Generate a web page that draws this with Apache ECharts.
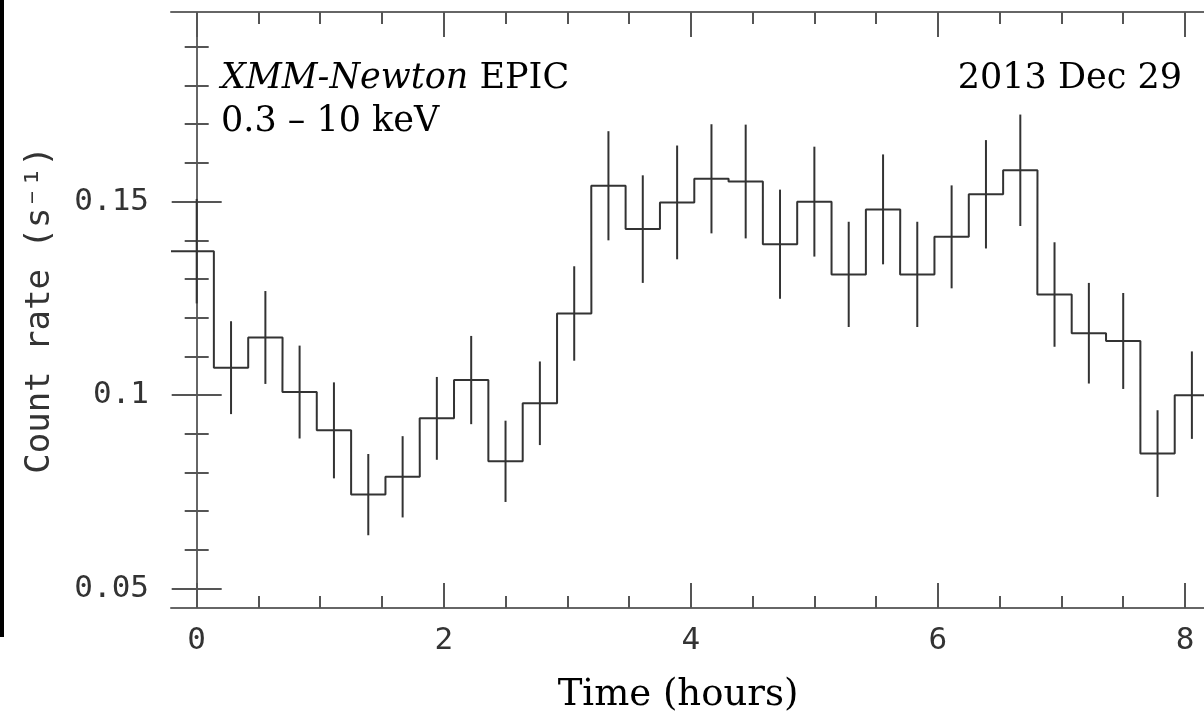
<!DOCTYPE html>
<html>
<head>
<meta charset="utf-8">
<script src="https://cdn.jsdelivr.net/npm/echarts@6/dist/echarts.min.js"></script>
<style>
  html, body { margin: 0; padding: 0; background: #fff; }
  #chart { width: 1204px; height: 717px; }
</style>
</head>
<body>
<div id="chart"></div>
<script>
// ---- data (1000-s bins, time in hours) ----
const binTimes = [0, 0.278, 0.556, 0.833, 1.111, 1.389, 1.667, 1.944, 2.222, 2.5,
                  2.778, 3.056, 3.333, 3.611, 3.889, 4.167, 4.444, 4.722, 5.0, 5.278,
                  5.556, 5.833, 6.111, 6.389, 6.667, 6.944, 7.222, 7.5, 7.778, 8.056];
const rates = [0.1372, 0.1071, 0.1149, 0.1008, 0.0909, 0.0743, 0.0789, 0.0940, 0.1039, 0.0829,
               0.0979, 0.1211, 0.1541, 0.1429, 0.1498, 0.1559, 0.1552, 0.1390, 0.1500, 0.1312,
               0.1480, 0.1312, 0.1409, 0.1519, 0.1581, 0.1260, 0.1160, 0.1140, 0.0849, 0.1000];
const rateErrors = [0.0135, 0.0120, 0.0120, 0.0120, 0.0124, 0.0105, 0.0105, 0.0107, 0.0114, 0.0105,
                    0.0108, 0.0122, 0.0141, 0.0139, 0.0147, 0.0141, 0.0147, 0.0141, 0.0142, 0.0136,
                    0.0142, 0.0136, 0.0133, 0.0140, 0.0144, 0.0135, 0.0130, 0.0124, 0.0112, 0.0113];
const binHalfWidth = 0.139;

const xMajorTicks = [0, 2, 4, 6, 8];
const xMinorTicks = [0.5, 1, 1.5, 2.5, 3, 3.5, 4.5, 5, 5.5, 6.5, 7, 7.5];
const yMajorTicks = [0.05, 0.1, 0.15];
const yMinorTicks = [0.06, 0.07, 0.08, 0.09, 0.11, 0.12, 0.13, 0.14, 0.16, 0.17, 0.18, 0.19];

const xMin = -0.208, xMax = 8.154;
const yMin = 0.045, yMax = 0.199;

const xTitle = 'Time (hours)';
const yTitle = 'Count rate (s\u207B\u00B9)';
const noteLine1 = ['XMM-Newton', 'EPIC'];
const noteLine2 = '0.3 \u2013 10 keV';
const noteDate = '2013 Dec 29';

// ---- build histogram polyline from bins ----
const histData = [];
binTimes.forEach((t, i) => {
  const left = i === 0 ? xMin : t - binHalfWidth;
  histData.push([left, rates[i]]);
  histData.push([t + binHalfWidth, rates[i]]);
});
const errData = binTimes.map((t, i) => [t, rates[i] - rateErrors[i], rates[i] + rateErrors[i]]);

const axisGrey = '#666';
const tickGrey = '#555';
const monoFont = 'DejaVu Sans Mono';
const serifFont = 'DejaVu Serif';

function xAxisDef(pos, ticks, len, withLabels, withLine) {
  return {
    type: 'value', position: pos, min: xMin, max: xMax,
    axisLine: { show: withLine, lineStyle: { color: axisGrey, width: 2 } },
    axisTick: { show: true, inside: true, length: len, customValues: ticks,
                lineStyle: { color: tickGrey, width: 2 } },
    axisLabel: withLabels ? { show: true, customValues: ticks, margin: 17,
                fontFamily: monoFont, fontSize: 31, color: '#333' } : { show: false },
    splitLine: { show: false }
  };
}
function yAxisDef(pos, ticks, len, withLabels, withLine, extra) {
  const a = {
    type: 'value', position: pos, min: yMin, max: yMax,
    axisLine: { show: withLine, lineStyle: { color: axisGrey, width: 2 } },
    axisTick: { show: true, inside: true, length: len, customValues: ticks,
                lineStyle: { color: tickGrey, width: 2 } },
    axisLabel: withLabels ? { show: true, customValues: ticks, margin: 22,
                fontFamily: monoFont, fontSize: 31, color: '#333' } : { show: false },
    splitLine: { show: false }
  };
  if (extra) Object.assign(a, extra);
  return a;
}

const chart = echarts.init(document.getElementById('chart'), null, { renderer: 'canvas' });
chart.setOption({
  animation: false,
  backgroundColor: '#fff',
  grid: { left: 171, top: 12, right: 0, height: 596, containLabel: false },
  xAxis: [
    xAxisDef('bottom', xMajorTicks, 25, true, true),
    xAxisDef('bottom', xMinorTicks, 12, false, false),
    xAxisDef('top', xMajorTicks, 25, false, true),
    xAxisDef('top', xMinorTicks, 12, false, false)
  ],
  yAxis: [
    yAxisDef('left', yMajorTicks, 25, true, true, {
      name: yTitle, nameLocation: 'middle', nameGap: 114,
      nameTextStyle: { fontFamily: monoFont, fontSize: 34, color: '#333' }
    }),
    yAxisDef('left', yMinorTicks, 12, false, false),
    yAxisDef('right', yMajorTicks, 25, false, true, { offset: 20 }),
    yAxisDef('right', yMinorTicks, 12, false, false, { offset: 20 })
  ],
  series: [
    {
      type: 'line', xAxisIndex: 0, yAxisIndex: 0, data: histData,
      showSymbol: false, symbol: 'none', silent: true,
      lineStyle: { color: '#333', width: 2 }
    },
    {
      type: 'custom', xAxisIndex: 0, yAxisIndex: 0, data: errData, silent: true,
      encode: { x: 0, y: [1, 2] },
      renderItem: function (params, api) {
        const p1 = api.coord([api.value(0), api.value(1)]);
        const p2 = api.coord([api.value(0), api.value(2)]);
        return { type: 'line', shape: { x1: p1[0], y1: p1[1], x2: p2[0], y2: p2[1] },
                 style: { stroke: '#333', lineWidth: 2 } };
      }
    }
  ],
  graphic: [
    { type: 'rect', shape: { x: 0, y: 0, width: 4, height: 637 }, style: { fill: '#000' }, silent: true },
    { type: 'text', x: 221, y: 79, style: {
        text: '{it|' + noteLine1[0] + '} ' + noteLine1[1],
        rich: { it: { fontStyle: 'italic', fontFamily: serifFont, fontSize: 35, fill: '#000' } },
        fontFamily: serifFont, fontSize: 35, fill: '#000', align: 'left', verticalAlign: 'middle' } },
    { type: 'text', x: 221, y: 122, style: {
        text: noteLine2, fontFamily: serifFont, fontSize: 35, fill: '#000',
        align: 'left', verticalAlign: 'middle' } },
    { type: 'text', x: 1182, y: 79, style: {
        text: noteDate, fontFamily: serifFont, fontSize: 35, fill: '#000',
        align: 'right', verticalAlign: 'middle' } },
    { type: 'text', x: 678, y: 695, style: {
        text: xTitle, fontFamily: serifFont, fontSize: 37, fill: '#000',
        align: 'center', verticalAlign: 'middle' } }
  ]
});
</script>
</body>
</html>
